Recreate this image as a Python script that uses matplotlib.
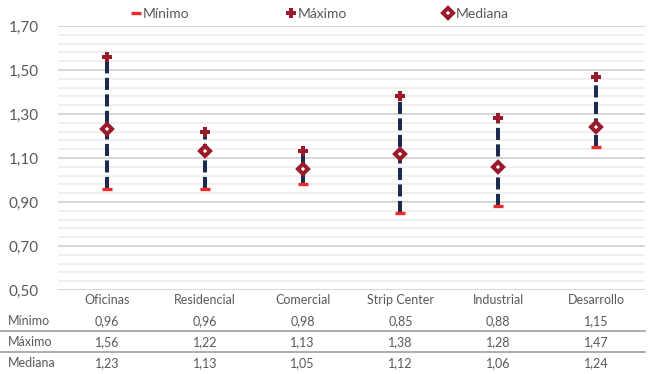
import matplotlib.pyplot as plt
from matplotlib.lines import Line2D
from matplotlib.ticker import FixedLocator, FuncFormatter
import matplotlib.transforms as mtransforms

categorias = ["Oficinas", "Residencial", "Comercial", "Strip Center", "Industrial", "Desarrollo"]
minimo = [0.96, 0.96, 0.98, 0.85, 0.88, 1.15]
maximo = [1.56, 1.22, 1.13, 1.38, 1.28, 1.47]
mediana = [1.23, 1.13, 1.05, 1.12, 1.06, 1.24]

plt.rcParams['font.family'] = ['Lato', 'DejaVu Sans']
gris = '#595959'
rojo = '#ee2b2b'
granate = '#9b1b2a'
azul = '#1c2b50'

def coma(v, pos=None):
    return f"{v:.2f}".replace(".", ",")

fig = plt.figure(figsize=(6.62, 3.74), dpi=100)
ax = fig.add_axes([58 / 662, (374 - 290) / 374, (645 - 58) / 662, (290 - 26) / 374])

x = list(range(len(categorias)))
ax.set_xlim(-0.5, len(categorias) - 0.5)
ax.set_ylim(0.5, 1.7)

# rejilla: mayor cada 0,20 y menor cada 0,04 desde 0,50
mayores = [round(0.5 + 0.2 * k, 2) for k in range(7)]
menores = [round(0.5 + 0.04 * k, 2) for k in range(31) if k % 5]
ax.yaxis.set_major_locator(FixedLocator(mayores))
ax.yaxis.set_minor_locator(FixedLocator(menores))
ax.yaxis.set_major_formatter(FuncFormatter(coma))
ax.grid(axis='y', which='major', color='#d6d6d6', lw=1.4, zorder=0)
ax.grid(axis='y', which='minor', color='#eeeeee', lw=1.2, zorder=0)
ax.tick_params(axis='y', which='both', length=0, labelsize=11, labelcolor=gris, pad=14)
ax.tick_params(axis='x', length=0)
ax.set_xticks([])
for s in ax.spines.values():
    s.set_visible(False)

for i in x:
    ln, = ax.plot([i, i], [minimo[i], maximo[i]], color=azul, lw=2.9, zorder=2,
                  solid_capstyle='butt', dash_capstyle='butt')
    ln.set_dashes([3.0, 1.1])

ax.plot(x, minimo, marker='_', ms=6.5, mew=2.4, color=rojo, ls='none', zorder=4)
ax.plot(x, maximo, marker='P', ms=7.5, mew=0, color=granate, ls='none', zorder=4)
ax.plot(x, mediana, marker='D', ms=4.8, mfc='white', mec=granate, mew=2.9, ls='none', zorder=4)

# leyenda superior
handles = [
    Line2D([], [], marker='_', ms=6.5, mew=2.4, color=rojo, ls='none'),
    Line2D([], [], marker='P', ms=7.5, mew=0, color=granate, ls='none'),
    Line2D([], [], marker='D', ms=4.8, mfc='white', mec=granate, mew=2.9, ls='none'),
]
leg = fig.legend(handles, ["Mínimo", "Máximo", "Mediana"], loc='center', ncol=3,
                 bbox_to_anchor=(320 / 662, 1 - 14 / 374), frameon=False,
                 handlelength=0.6, handletextpad=0.2, columnspacing=7.0,
                 fontsize=10, labelcolor=gris)

# tabla de valores bajo el gráfico
trans = mtransforms.blended_transform_factory(ax.transData, fig.transFigure)
filas = [("Mínimo", minimo), ("Máximo", maximo), ("Mediana", mediana)]
for i, c in enumerate(categorias):
    ax.text(i, 1 - 300 / 374, c, transform=trans, ha='center', va='center',
            fontsize=9, color=gris)
for r, (nombre, vals) in enumerate(filas):
    yf = 1 - (321 + 21 * r) / 374
    fig.text(8 / 662, yf, nombre, ha='left', va='center', fontsize=9, color=gris)
    for i, v in enumerate(vals):
        ax.text(i, yf, coma(v), transform=trans, ha='center', va='center',
                fontsize=9, color=gris)
for yp in (331, 352):
    fig.add_artist(Line2D([0, 645 / 662], [1 - yp / 374] * 2, color='#a0a0a0', lw=1.2))

fig.savefig("out.png", dpi=100)
